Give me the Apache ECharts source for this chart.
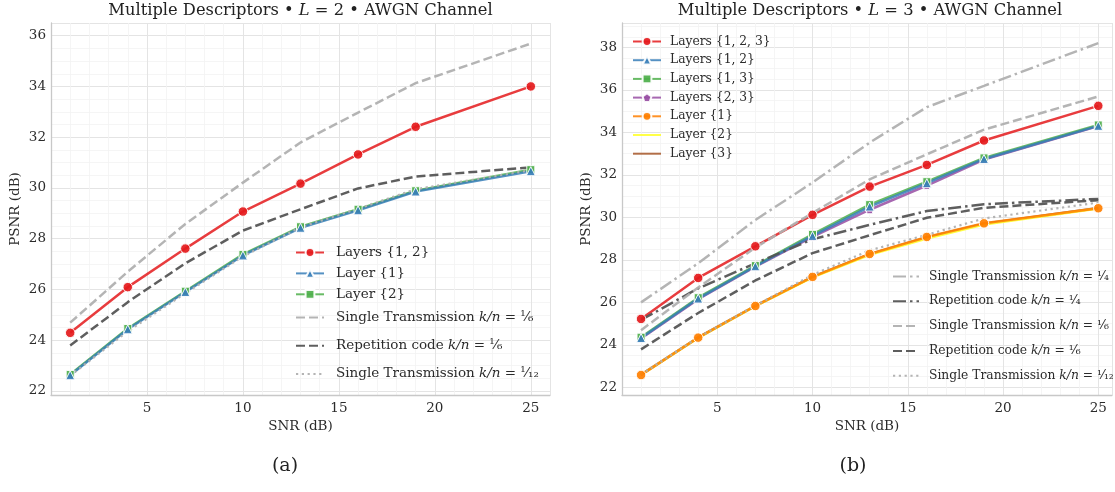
<!DOCTYPE html>
<html><head><meta charset="utf-8">
<script src="https://cdn.jsdelivr.net/npm/echarts@6/dist/echarts.min.js"></script>
<style>html,body{margin:0;padding:0;background:#fff}#c{width:1115px;height:492px}</style>
</head><body><div id="c"></div>
<script>
// ---------- data ----------
const snr = [1, 4, 7, 10, 13, 16, 19, 25];
const xTicks = [5, 10, 15, 20, 25];
const yTicksL = [22, 24, 26, 28, 30, 32, 34, 36];
const yTicksR = [22, 24, 26, 28, 30, 32, 34, 36, 38];

// L = 2 panel
const l2Layers12 = [24.29, 26.09, 27.61, 29.07, 30.17, 31.32, 32.41, 34.00];
const l2Layer1   = [22.62, 24.43, 25.90, 27.34, 28.43, 29.12, 29.86, 30.66];
const l2Layer2   = [22.65, 24.46, 25.93, 27.38, 28.47, 29.16, 29.89, 30.72];
// baselines (shared by both panels)
const st16  = [24.69, 26.70, 28.58, 30.21, 31.79, 32.97, 34.13, 35.69];
const rep16 = [23.79, 25.50, 27.03, 28.32, 29.16, 29.98, 30.45, 30.81];
const st112 = [22.60, 24.35, 25.85, 27.30, 28.45, 29.18, 29.95, 30.70];
// L = 3 panel
const l3Layers123 = [25.22, 27.15, 28.64, 30.12, 31.45, 32.47, 33.62, 35.25];
const l3Layers12  = [24.32, 26.18, 27.70, 29.13, 30.51, 31.61, 32.75, 34.31];
const l3Layers13  = [24.36, 26.22, 27.73, 29.20, 30.60, 31.68, 32.80, 34.35];
const l3Layers23  = [24.30, 26.15, 27.68, 29.08, 30.36, 31.50, 32.72, 34.30];
const l3Layer1    = [22.58, 24.34, 25.83, 27.20, 28.28, 29.08, 29.72, 30.43];
const l3Layer2    = [22.58, 24.33, 25.82, 27.18, 28.24, 29.01, 29.66, 30.42];
const l3Layer3    = [22.60, 24.35, 25.84, 27.20, 28.27, 29.06, 29.70, 30.44];
const st14  = [26.00, 27.84, 29.88, 31.64, 33.52, 35.19, 36.19, 38.20];
const rep14 = [25.17, 26.66, 27.84, 28.97, 29.65, 30.30, 30.62, 30.87];

// ---------- styling ----------
const FONT = 'DejaVu Serif';
const TXT = '#2b2b2b';
const C = {red:'#e41a1c', blue:'#377eb8', green:'#4daf4a', purple:'#984ea3',
           orange:'#ff7f00', yellow:'#ffff33', brown:'#a65628',
           light:'#b0b0b0', dark:'#555555'};
const DASH = [9, 4], DASHDOT = [13, 4, 2.5, 4], DOT = [2.2, 3.6];
const PENTAGON = 'path://M0,-1L0.951,-0.309L0.588,0.809L-0.588,0.809L-0.951,-0.309Z';

const display = {
  'a12':'Layers {1, 2}', 'a1':'Layer {1}', 'a2':'Layer {2}',
  'ast16':'Single Transmission {it|k/n} = {fr|¹⁄₆}',
  'arep16':'Repetition code {it|k/n} = {fr|¹⁄₆}',
  'ast112':'Single Transmission {it|k/n} = {fr|¹⁄₁₂}',
  'b123':'Layers {1, 2, 3}', 'b12':'Layers {1, 2}', 'b13':'Layers {1, 3}',
  'b23':'Layers {2, 3}', 'b1':'Layer {1}', 'b2':'Layer {2}', 'b3':'Layer {3}',
  'bst14':'Single Transmission {it|k/n} = {fr|¹⁄₄}',
  'brep14':'Repetition code {it|k/n} = {fr|¹⁄₄}',
  'bst16':'Single Transmission {it|k/n} = {fr|¹⁄₆}',
  'brep16':'Repetition code {it|k/n} = {fr|¹⁄₆}',
  'bst112':'Single Transmission {it|k/n} = {fr|¹⁄₁₂}'
};
const noMarker = ['ast16','arep16','ast112','b2','b3','bst14','brep14','bst16','brep16','bst112'];

function pts(arr){ return snr.map((x,i)=>[x, arr[i]]); }
function marked(name, arr, color, symbol, size, p){
  return {type:'line', name, xAxisIndex:p, yAxisIndex:p, data:pts(arr),
    symbol, symbolSize:size, showSymbol:true, silent:true,
    lineStyle:{color, width:2.5, opacity:0.85},
    itemStyle:{color, borderColor:'#ffffff', borderWidth:1, opacity:0.92}};
}
function plainLine(name, arr, color, type, width, p, op){
  return {type:'line', name, xAxisIndex:p, yAxisIndex:p, data:pts(arr),
    symbol:'none', silent:true,
    lineStyle:{color, width, type, opacity:op == null ? 0.95 : op},
    itemStyle:{color, opacity:0}};
}

function legendText(size){
  return {fontFamily:FONT, fontSize:size, color:TXT, lineHeight:14,
    rich:{it:{fontFamily:FONT, fontStyle:'italic', fontSize:size, color:TXT, lineHeight:14},
          fr:{fontFamily:FONT, fontSize:size, color:TXT, lineHeight:14}}};
}
function legend(names, left, top, gap, w, size, pad){
  const ts = legendText(size); ts.padding = [0,0,0,pad];
  return {data:names.map(n => noMarker.includes(n) ? {name:n, itemStyle:{opacity:0}} : n),
    orient:'vertical', left, top, itemGap:gap, itemWidth:w, itemHeight:11,
    padding:0, selectedMode:false, textStyle:ts,
    formatter: n => display[n]};
}

function xAxis(p, max){
  return {type:'value', gridIndex:p, min:0, max, interval:5,
    axisLine:{show:true, lineStyle:{color:'#c8c8c8', width:1.3}},
    axisTick:{show:false},
    axisLabel:{fontFamily:FONT, fontSize:13.5, color:TXT, margin:6,
      formatter:v => xTicks.includes(v) ? String(v) : ''},
    splitLine:{show:true, lineStyle:{color:'#e4e4e4', width:1}},
    minorTick:{show:false, splitNumber:5},
    minorSplitLine:{show:true, lineStyle:{color:'#f2f2f2', width:0.8}},
    name:'SNR (dB)', nameLocation:'middle', nameGap:22,
    nameTextStyle:{fontFamily:FONT, fontSize:13.5, color:TXT}};
}
function yAxis(p, min, max, ticks){
  return {type:'value', gridIndex:p, min, max, splitNumber:8, minInterval:2, maxInterval:2,
    axisLine:{show:true, lineStyle:{color:'#c8c8c8', width:1.3}},
    axisTick:{show:false},
    axisLabel:{fontFamily:FONT, fontSize:13.5, color:TXT, margin:5,
      formatter:v => ticks.includes(v) ? String(v) : ''},
    splitLine:{show:true, lineStyle:{color:'#e4e4e4', width:1}},
    minorTick:{show:false, splitNumber:4},
    minorSplitLine:{show:true, lineStyle:{color:'#f2f2f2', width:0.8}},
    name:'PSNR (dB)', nameLocation:'middle', nameRotate:90, nameGap:29,
    nameTextStyle:{fontFamily:FONT, fontSize:13.5, color:TXT}};
}
function title(text, x, y, size){
  return {text, left:x, top:y, textAlign:'center', padding:0,
    textStyle:{fontFamily:FONT, fontSize:size, fontWeight:'normal', color:'#222',
      rich:{it:{fontFamily:FONT, fontStyle:'italic', fontSize:size, color:'#222'}}}};
}

const series = [
  // left panel (draw order)
  marked('a2', l2Layer2, C.green, 'rect', 8, 0),
  marked('a1', l2Layer1, C.blue, 'triangle', 9, 0),
  marked('a12', l2Layers12, C.red, 'circle', 9.5, 0),
  plainLine('ast16', st16, C.light, DASH, 2.5, 0),
  plainLine('arep16', rep16, C.dark, DASH, 2.5, 0),
  plainLine('ast112', st112, C.light, DOT, 2.2, 0),
  // right panel
  plainLine('b3', l3Layer3, C.brown, 'solid', 2.5, 1, 0.85),
  plainLine('b2', l3Layer2, C.yellow, 'solid', 2.5, 1, 0.9),
  marked('b1', l3Layer1, C.orange, 'circle', 9.5, 1),
  marked('b23', l3Layers23, C.purple, PENTAGON, 8, 1),
  marked('b13', l3Layers13, C.green, 'rect', 8, 1),
  marked('b12', l3Layers12, C.blue, 'triangle', 9, 1),
  marked('b123', l3Layers123, C.red, 'circle', 9.5, 1),
  plainLine('bst14', st14, C.light, DASHDOT, 2.5, 1),
  plainLine('brep14', rep14, C.dark, DASHDOT, 2.5, 1),
  plainLine('bst16', st16, C.light, DASH, 2.5, 1),
  plainLine('brep16', rep16, C.dark, DASH, 2.5, 1),
  plainLine('bst112', st112, C.light, DOT, 2.2, 1)
];

const option = {
  animation:false,
  backgroundColor:'#ffffff',
  title:[
    title('Multiple Descriptors • {it|L} = 2 • AWGN Channel', 300.5, 2.5, 16.3),
    title('Multiple Descriptors • {it|L} = 3 • AWGN Channel', 870, 2.5, 16.3),
    title('(a)', 285, 457, 19),
    title('(b)', 853, 457, 19)
  ],
  grid:[
    {left:51, top:23, width:499, height:372},
    {left:622, top:23, width:493, height:372}
  ],
  xAxis:[xAxis(0, 26), xAxis(1, 25.72)],
  yAxis:[yAxis(0, 21.84, 36.5, yTicksL), yAxis(1, 21.64, 39.15, yTicksR)],
  legend:[
    legend(['a12','a1','a2'], 295, 245.5, 6.9, 28, 13.5, 7),
    legend(['ast16','arep16','ast112'], 295, 310.5, 14.2, 28, 13.5, 7),
    legend(['b123','b12','b13','b23','b1','b2','b3'], 632, 34.5, 4.7, 28, 12.3, 4),
    legend(['bst14','brep14','bst16','brep16','bst112'], 892, 269.5, 10.8, 26, 12.3, 5)
  ],
  series
};
const chart = echarts.init(document.getElementById('c'), null, {renderer:'canvas'});
chart.setOption(option);
</script></body></html>
